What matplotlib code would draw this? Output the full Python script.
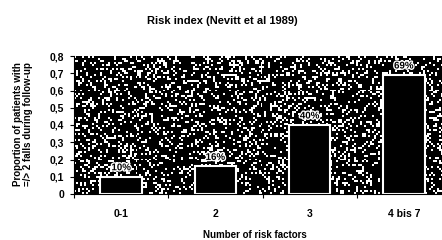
import numpy as np
import matplotlib
matplotlib.use("Agg")
import matplotlib.pyplot as plt
import matplotlib.patheffects as pe

categories = ["0-1", "2", "3", "4 bis 7"]
values = [0.10, 0.16, 0.40, 0.69]
bar_labels = ["10%", "16%", "40%", "69%"]
yticks = [0, 0.1, 0.2, 0.3, 0.4, 0.5, 0.6, 0.7, 0.8]
ytick_labels = ["0", "0,1", "0,2", "0,3", "0,4", "0,5", "0,6", "0,7", "0,8"]

plt.rcParams['font.family'] = ['Liberation Sans', 'DejaVu Sans']
plt.rcParams['font.weight'] = 'bold'

W, H = 442, 240
fig = plt.figure(figsize=(W / 100, H / 100), dpi=100)
fig.patch.set_facecolor('white')

left, right, top, bottom = 74, 451, 56, 194
ax = fig.add_axes([left / W, 1 - bottom / H, (right - left) / W, (bottom - top) / H])

# speckled background texture (styling only)
rng = np.random.default_rng(3)
tex = (rng.random((70, 190)) < 0.22).astype(float)
ax.imshow(tex, cmap='gray', vmin=0, vmax=1, extent=(-0.5, 3.5, 0, 0.8),
          aspect='auto', interpolation='nearest', zorder=0)

x = np.arange(len(categories))
ax.bar(x, values, width=0.44, color='black', edgecolor='white', linewidth=1.5, zorder=2)
for xi, v, lab in zip(x, values, bar_labels):
    ax.text(xi, v + 0.055, lab, ha='center', va='center', fontsize=7, fontweight='bold',
            color='black', zorder=3,
            path_effects=[pe.withStroke(linewidth=2, foreground='white')])

ax.set_xlim(-0.5, 3.5)
ax.set_ylim(0, 0.8)
ax.set_yticks(yticks)
ax.set_yticklabels(ytick_labels, fontsize=7.5, fontweight='bold')
ax.set_xticks(x)
ax.set_xticklabels(categories, fontsize=7.5, fontweight='bold')
ax.set_xticks(np.arange(-0.5, 3.6, 1.0), minor=True)
ax.tick_params(axis='x', which='major', length=0, pad=11)
ax.tick_params(axis='x', which='minor', length=3, width=0.8, direction='out')
ax.tick_params(axis='y', length=3, width=0.8, direction='out', pad=4)
for s in ['top', 'right']:
    ax.spines[s].set_visible(False)
for s in ['left', 'bottom']:
    ax.spines[s].set_linewidth(0.8)

ax.set_xlabel("Number of risk factors", fontsize=7, fontweight='bold', labelpad=9)
ax.xaxis.set_label_coords((255 - left) / (right - left), -(235 - bottom) / (bottom - top))
ax.xaxis.label.set_va('center')
ax.set_ylabel("Proportion of patients with\n=/> 2 falls during follow-up", fontsize=7,
              fontweight='bold', linespacing=1.0)
ax.yaxis.set_label_coords(-(left - 23) / (right - left), (bottom - 124) / (bottom - top))
ax.yaxis.label.set_va('center')
fig.text(222 / W, 1 - 21 / H, "Risk index (Nevitt et al 1989)", ha='center', va='center',
         fontsize=8, fontweight='bold')

fig.savefig("out.png", dpi=100)
